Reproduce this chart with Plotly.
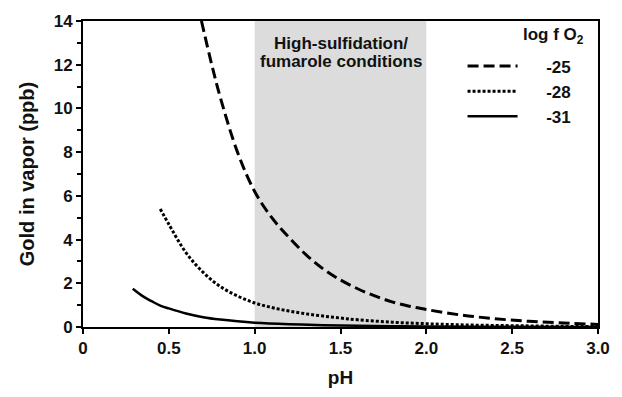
import plotly.graph_objects as go

# ---- data ----
ph_25 = [0.69, 0.75, 0.8, 0.9, 1.0, 1.1, 1.2, 1.3, 1.4, 1.5, 1.6, 1.7, 1.8, 1.9, 2.0, 2.2, 2.4, 2.6, 2.8, 3.0]
au_25 = [14.0, 12.0, 10.5, 8.0, 6.2, 5.0, 4.1, 3.3, 2.65, 2.15, 1.75, 1.42, 1.15, 0.95, 0.8, 0.55, 0.38, 0.26, 0.18, 0.12]

ph_28 = [0.45, 0.5, 0.6, 0.7, 0.8, 0.9, 1.0, 1.1, 1.2, 1.3, 1.4, 1.5, 1.6, 1.8, 2.0, 2.2, 2.4, 2.6, 2.8, 3.0]
au_28 = [5.4, 4.7, 3.4, 2.5, 1.85, 1.42, 1.1, 0.89, 0.73, 0.6, 0.5, 0.41, 0.33, 0.22, 0.15, 0.1, 0.07, 0.05, 0.03, 0.02]

ph_31 = [0.29, 0.35, 0.4, 0.45, 0.5, 0.6, 0.7, 0.8, 0.9, 1.0, 1.2, 1.4, 1.6, 1.8, 2.0, 2.5, 3.0]
au_31 = [1.75, 1.4, 1.18, 0.98, 0.85, 0.62, 0.45, 0.34, 0.26, 0.2, 0.13, 0.085, 0.06, 0.04, 0.025, 0.01, 0.005]

series_names = ["-25", "-28", "-31"]
legend_title = "log f O<sub>2</sub>"
zone_range = [1.0, 2.0]
zone_label_lines = ["High-sulfidation/", "fumarole conditions"]

x_tickvals = [0, 0.5, 1.0, 1.5, 2.0, 2.5, 3.0]
x_ticktext = ["0", "0.5", "1.0", "1.5", "2.0", "2.5", "3.0"]
y_tickvals = [0, 2, 4, 6, 8, 10, 12, 14]

FONT = "Liberation Sans, Arial, sans-serif"
INK = "#111111"
PAD = "\u00a0" * 5
L, R, T, B, W, H = 83, 15, 20, 60, 622, 397

fig = go.Figure()
fig.add_trace(go.Scatter(x=ph_25, y=au_25, mode="lines", name=PAD + series_names[0],
                         line=dict(color="black", width=3, dash="11px,5px", shape="spline")))
fig.add_trace(go.Scatter(x=ph_28, y=au_28, mode="lines", name=PAD + series_names[1],
                         line=dict(color="black", width=3, dash="3px,2px", shape="spline")))
fig.add_trace(go.Scatter(x=ph_31, y=au_31, mode="lines", name=PAD + series_names[2],
                         line=dict(color="black", width=2.5, shape="spline")))

fig.add_shape(type="rect", xref="x", yref="paper", x0=zone_range[0], x1=zone_range[1],
              y0=0, y1=1, fillcolor="#dcdcdc", line=dict(width=0), layer="below")
for txt, yp in zip(zone_label_lines, [0.927, 0.867]):
    fig.add_annotation(x=sum(zone_range) / 2, xref="x", y=yp, yref="paper", yanchor="middle",
                       text=txt, showarrow=False,
                       font=dict(family=FONT, size=17, color=INK, weight="bold"))
# legend heading
fig.add_annotation(x=(562 - L) / (W - L - R), xref="paper", y=0.95, yref="paper",
                   yanchor="middle", xanchor="center",
                   text=legend_title, showarrow=False,
                   font=dict(family=FONT, size=17, color=INK, weight="bold"))

fig.update_layout(
    width=W, height=H,
    margin=dict(l=L, r=R, t=T, b=B),
    paper_bgcolor="white", plot_bgcolor="white",
    font=dict(family=FONT, size=17, color=INK, weight="bold"),
    showlegend=True,
    legend=dict(x=0.737, y=0.91, xanchor="left", yanchor="top",
                bgcolor="rgba(0,0,0,0)", itemwidth=50,
                font=dict(family=FONT, size=17, weight="bold")),
    xaxis=dict(range=[0, 3], tickvals=x_tickvals, ticktext=x_ticktext,
               ticks="outside", ticklen=5, tickwidth=2, tickcolor="black",
               showline=True, linecolor="black", linewidth=2, mirror=True,
               showgrid=False, zeroline=False,
               title=dict(text="pH", font=dict(size=19, weight="bold"), standoff=13)),
    yaxis=dict(range=[0, 14], tickvals=y_tickvals,
               ticks="outside", ticklen=5, tickwidth=2, tickcolor="black",
               minor=dict(dtick=1, ticks="outside", ticklen=4, tickwidth=2, tickcolor="black"),
               showline=True, linecolor="black", linewidth=2, mirror=True,
               showgrid=False, zeroline=False,
               title=dict(text="Gold in vapor (ppb)", font=dict(size=20, weight="bold"), standoff=14)),
)

fig.write_html("out.html", config={"displayModeBar": False},
               post_script="document.body.style.margin='0';")
